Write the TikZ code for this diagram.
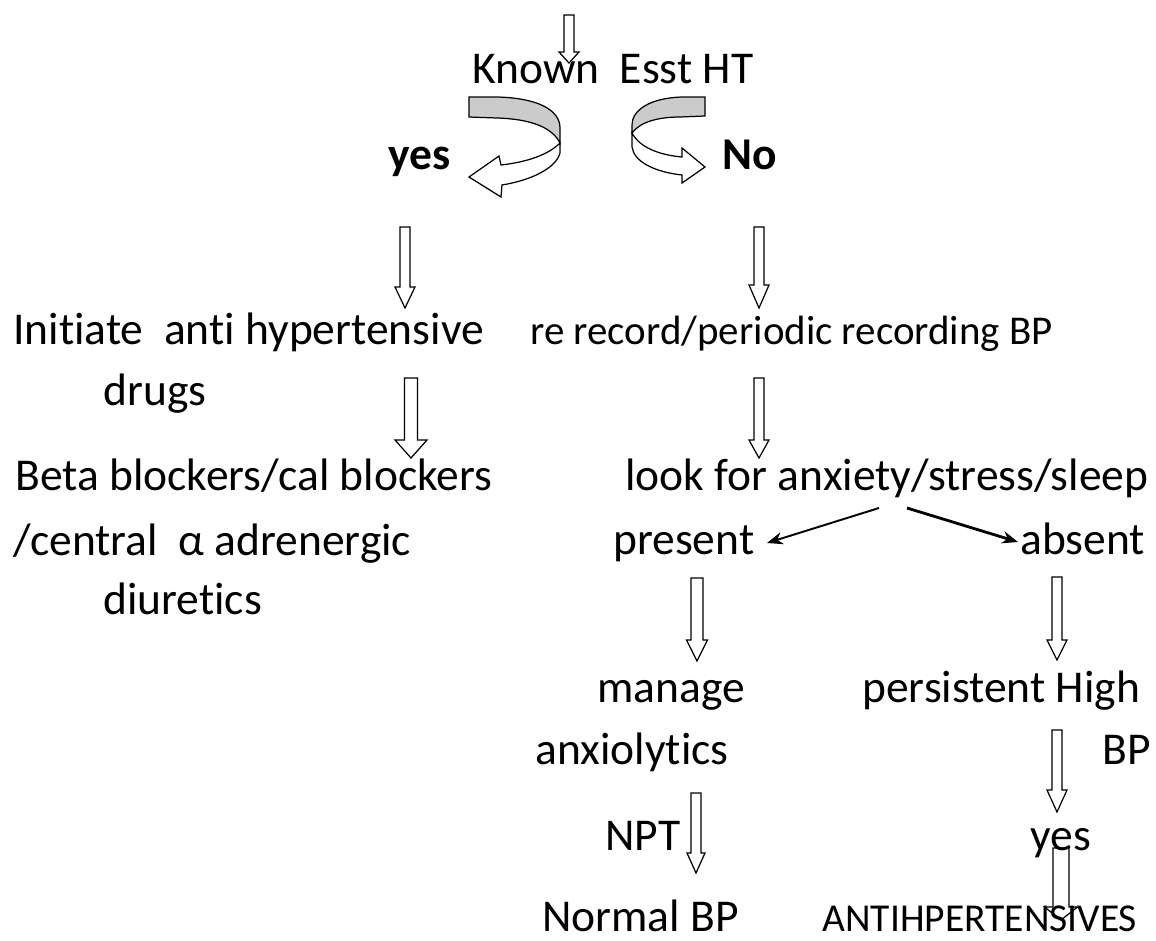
\documentclass[tikz,border=0pt]{standalone}
\usepackage{fontspec}
\setmainfont{Carlito}[Ligatures=NoCommon]
\usetikzlibrary{arrows.meta,calc}
\definecolor{foldgray}{HTML}{CBCBCB}

\begin{document}
\begin{tikzpicture}[x=0.02cm,y=-0.02cm,
  lbl/.style={anchor=base west,inner sep=0pt,font=\fontsize{25.9}{31}\selectfont},
  boldlbl/.style={lbl,font=\fontsize{25.9}{31}\selectfont\bfseries},
  smlbl/.style={lbl,font=\fontsize{23.3}{28}\selectfont},
  capslbl/.style={lbl,font=\fontsize{22.5}{27}\selectfont},
  hollow/.style={draw,line width=0.7pt,fill=white},
  fold/.style={draw,line width=0.7pt,fill=foldgray},
  thinarr/.style={line width=1.1pt,-{Stealth[length=9pt,width=7pt]}}]
\useasboundingbox (0,0) rectangle (1156,940);
% block arrows: x/top/head/tip/shaft/head half widths
\foreach \ax/\at/\ah/\ap/\sw/\hw in {
  569/15/52/63/5/10, 405/227/287/308/5/10, 411/378/440/458/6.5/16,
  759/227/285/308/5/10, 759/378/440/458/5/10, 697/578/640/661/6/10.5,
  1057/577/640/660/5/10, 1057/730/790/812/5/10, 1061/848/907/920/8/16.5,
  696/793/853/873/5/9
} {
  \draw[hollow] (\ax-\sw,\at) -- (\ax+\sw,\at) -- (\ax+\sw,\ah) -- (\ax+\hw,\ah)
    -- (\ax,\ap) -- (\ax-\hw,\ah) -- (\ax-\sw,\ah) -- cycle;
}
% curved arrows
\draw[fold] (469,97) -- (497,97) .. controls (538,98) and (560,110) .. (560,128) -- (560,143) .. controls (552,127) and (530,119) .. (497,118) -- (469,117) -- cycle;
\draw[hollow] (560,143) .. controls (548,155) and (527,162) .. (501,165) -- (499,156) -- (469,177) -- (501,197) -- (502,185) .. controls (532,180) and (556,168) .. (560,153) -- cycle;
\draw[fold] (705,97) -- (682,97) .. controls (650,98) and (632,110) .. (632,125) -- (632,133) .. controls (640,122) and (658,117) .. (680,117) -- (705,116) -- cycle;
\draw[hollow] (632,133) .. controls (640,148) and (660,155) .. (682,157) -- (682,148) -- (705,167) -- (682,183) -- (682,175) .. controls (655,172) and (634,162) .. (632,147) -- cycle;
% question and the two answers
\node[lbl] (known) at (472,83) {Known~~Esst HT};
\node[boldlbl] (yesL) at (388,169) {yes};
\node[boldlbl] (noR) at (722,169) {No};
% left branch
\node[lbl] (initiate) at (13,344) {Initiate~~anti hypertensive};
\node[lbl] (drugs) at (103,405) {drugs};
\node[lbl] (beta) at (15,490) {Beta blockers/cal blockers};
\node[lbl] (central) at (13,555) {/central~~α adrenergic};
\node[lbl] (diuretics) at (103,614) {diuretics};
% right branch
\node[smlbl] (rerecord) at (530,344) {re record/periodic recording BP};
\node[lbl] (lookfor) at (625,490) {look for anxiety/stress/sleep};
\node[lbl] (present) at (613,554) {present};
\node[lbl] (absent) at (1020,554) {absent};
\node[lbl] (manage) at (597,702) {manage};
\node[lbl] (anxio) at (535,764) {anxiolytics};
\node[lbl] (npt) at (605,850) {NPT};
\node[lbl] (normal) at (542,931) {Normal BP};
\node[lbl] (persist) at (862,702) {persistent High};
\node[lbl] (bpR) at (1102,764) {BP};
\node[lbl] (yesR) at (1030,850) {yes};
\node[capslbl] (antih) at (822,931) {ANTIHPERTENSIVES};
% present / absent
\coordinate (forkL) at (879,508);
\coordinate (forkR) at (907,508);
\coordinate (tipP) at (767,543);
\coordinate (tipA) at (1018,542);
\draw[thinarr] (forkL) -- (tipP);
\draw[thinarr,line width=1.6pt] (forkR) -- (tipA);
\end{tikzpicture}
\end{document}
